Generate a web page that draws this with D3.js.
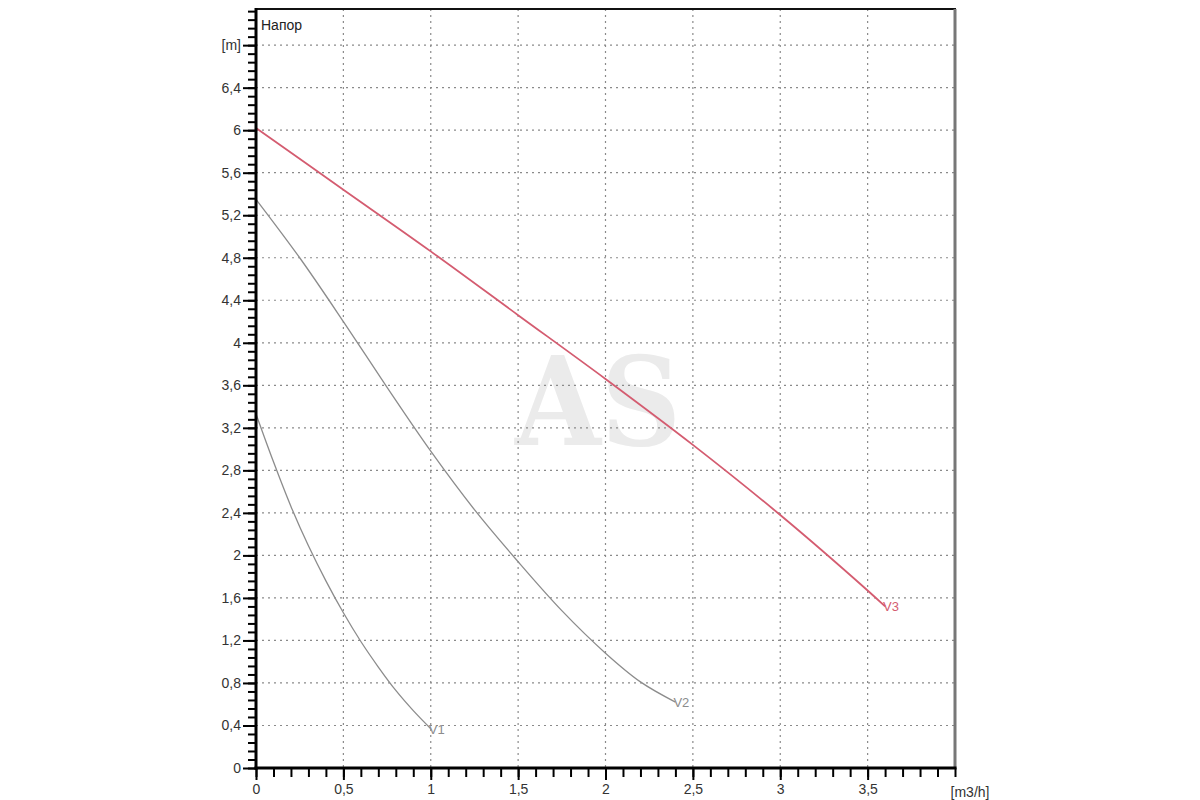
<!DOCTYPE html>
<html>
<head>
<meta charset="utf-8">
<script src="https://cdn.jsdelivr.net/npm/d3@7"></script>
<style>
  body { margin: 0; background: #fff; }
  svg { display: block; font-family: "Liberation Sans", Arial, sans-serif; }
</style>
</head>
<body>
<script>
// flow [m3/h] and head [m]
const v1Flow = [0, 0.1, 0.2, 0.3, 0.4, 0.5, 0.6, 0.7, 0.8, 0.9, 1.0];
const v1Head = [3.33, 2.88, 2.46, 2.09, 1.76, 1.46, 1.19, 0.95, 0.73, 0.54, 0.37];

const v2Flow = [0, 0.25, 0.5, 0.75, 1.0, 1.25, 1.5, 1.75, 2.0, 2.2, 2.4];
const v2Head = [5.35, 4.8, 4.2, 3.58, 2.98, 2.43, 1.94, 1.48, 1.08, 0.81, 0.62];

const v3Flow = [0, 0.5, 1.0, 1.5, 2.0, 2.5, 3.0, 3.5, 3.6];
const v3Head = [6.02, 5.44, 4.86, 4.26, 3.66, 3.04, 2.38, 1.67, 1.52];

const seriesNames = ["V1", "V2", "V3"];

const xTicks = [0, 0.5, 1, 1.5, 2, 2.5, 3, 3.5];
const yTicks = [0, 0.4, 0.8, 1.2, 1.6, 2, 2.4, 2.8, 3.2, 3.6, 4, 4.4, 4.8, 5.2, 5.6, 6, 6.4, 6.8];

const W = 1200, H = 800;
const plotL = 256, plotR = 955, plotT = 9, plotB = 768;

const svg = d3.select("body").append("svg")
    .attr("width", W)
    .attr("height", H);

const x = d3.scaleLinear().domain([0, 4]).range([plotL, plotR]);
const y = d3.scaleLinear().domain([0, 7.14]).range([plotB, plotT]);

const fmt = d => String(d).replace(".", ",");

// watermark
svg.append("text")
    .attr("x", 515)
    .attr("y", 445)
    .attr("textLength", 166)
    .attr("lengthAdjust", "spacingAndGlyphs")
    .attr("font-family", "'DejaVu Serif', 'Liberation Serif', serif")
    .attr("font-weight", "bold")
    .attr("font-size", 124)
    .attr("fill", "#ebebeb")
    .text("AS");

// grid
const grid = svg.append("g")
    .attr("stroke", "#8a8a8a")
    .attr("stroke-width", 1.2)
    .attr("stroke-dasharray", "2,4");

grid.selectAll("line.v").data(xTicks.filter(d => d > 0)).enter()
    .append("line")
    .attr("x1", d => x(d)).attr("x2", d => x(d))
    .attr("y1", plotT).attr("y2", plotB);

grid.selectAll("line.h").data(yTicks.filter(d => d > 0)).enter()
    .append("line")
    .attr("x1", plotL).attr("x2", plotR)
    .attr("y1", d => y(d)).attr("y2", d => y(d));

// curves
const line = d3.line()
    .x(d => x(d[0]))
    .y(d => y(d[1]))
    .curve(d3.curveCatmullRom.alpha(0.5));

const curves = [
    { name: seriesNames[0], pts: d3.zip(v1Flow, v1Head), color: "#8c8c8c", w: 1.3 },
    { name: seriesNames[1], pts: d3.zip(v2Flow, v2Head), color: "#8c8c8c", w: 1.3 },
    { name: seriesNames[2], pts: d3.zip(v3Flow, v3Head), color: "#d45c70", w: 1.8 }
];

curves.forEach(c => {
    svg.append("path")
        .attr("d", line(c.pts))
        .attr("fill", "none")
        .attr("stroke", c.color)
        .attr("stroke-width", c.w);

    const end = c.pts[c.pts.length - 1];
    svg.append("text")
        .attr("x", x(end[0]) - 2)
        .attr("y", y(end[1]) + 5)
        .attr("font-size", 13)
        .attr("fill", c.color)
        .text(c.name);
});

// frame: top black, right gray
svg.append("line")
    .attr("x1", plotL).attr("x2", plotR + 1)
    .attr("y1", plotT).attr("y2", plotT)
    .attr("stroke", "#111").attr("stroke-width", 2);

svg.append("line")
    .attr("x1", plotR).attr("x2", plotR)
    .attr("y1", plotT).attr("y2", plotB)
    .attr("stroke", "#777").attr("stroke-width", 3);

// y axis
const gy = svg.append("g")
    .attr("transform", `translate(${plotL},0)`)
    .call(d3.axisLeft(y).tickValues(d3.range(0, 7.14, 0.08)).tickSize(8).tickFormat(""));
gy.select(".domain").remove();
gy.selectAll(".tick line").attr("stroke", "#000").attr("stroke-width", 2);

const gyMajor = svg.append("g")
    .attr("transform", `translate(${plotL},0)`)
    .call(d3.axisLeft(y).tickValues(yTicks).tickSize(13).tickPadding(2)
        .tickFormat(d => Math.abs(d - 6.8) < 1e-9 ? "[m]" : fmt(d)));
gyMajor.select(".domain").remove();
gyMajor.selectAll(".tick line").attr("stroke", "#000").attr("stroke-width", 2);
gyMajor.selectAll(".tick text")
    .attr("font-size", 14)
    .attr("fill", "#333")
    .attr("font-family", "'Liberation Sans', Arial, sans-serif");

svg.append("line")
    .attr("x1", plotL).attr("x2", plotL)
    .attr("y1", plotT - 1).attr("y2", plotB + 1.5)
    .attr("stroke", "#000").attr("stroke-width", 3);

// x axis
const gx = svg.append("g")
    .attr("transform", `translate(0,${plotB})`)
    .call(d3.axisBottom(x).tickValues(d3.range(0, 4.001, 0.1)).tickSize(9).tickFormat(""));
gx.select(".domain").remove();
gx.selectAll(".tick line").attr("stroke", "#000").attr("stroke-width", 2);

const gxMajor = svg.append("g")
    .attr("transform", `translate(0,${plotB})`)
    .call(d3.axisBottom(x).tickValues(xTicks).tickSize(12).tickPadding(4).tickFormat(fmt));
gxMajor.select(".domain").remove();
gxMajor.selectAll(".tick line").attr("stroke", "#000").attr("stroke-width", 2);
gxMajor.selectAll(".tick text")
    .attr("font-size", 14)
    .attr("fill", "#333")
    .attr("font-family", "'Liberation Sans', Arial, sans-serif");

svg.append("line")
    .attr("x1", plotL - 1.5).attr("x2", plotR + 1.5)
    .attr("y1", plotB).attr("y2", plotB)
    .attr("stroke", "#000").attr("stroke-width", 3);

// labels
svg.append("text")
    .attr("x", 261)
    .attr("y", 30)
    .attr("font-size", 14)
    .attr("fill", "#222")
    .text("Напор");

svg.append("text")
    .attr("x", 970)
    .attr("y", 797)
    .attr("text-anchor", "middle")
    .attr("font-size", 14)
    .attr("fill", "#333")
    .text("[m3/h]");
</script>
</body>
</html>
